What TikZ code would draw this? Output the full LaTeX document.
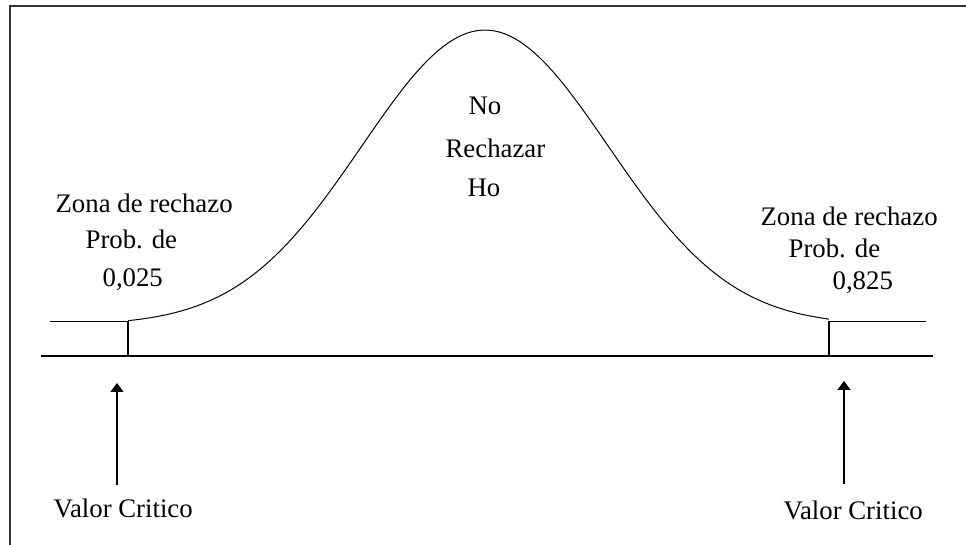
\documentclass[tikz,border=0pt]{standalone}
\usepackage{fontspec}
\setmainfont{Liberation Serif}
\usetikzlibrary{arrows.meta}

\tikzset{
  etiqueta/.style={anchor=base west,inner sep=0pt,font=\fontsize{13.4}{16}\selectfont},
  flecha/.style={-{Triangle[width=6.5pt,length=4.5pt]},line width=0.6pt},
}

\begin{document}
\begin{tikzpicture}[x=0.5pt,y=-0.5pt,line width=0.6pt]
	\useasboundingbox (0,0) rectangle (966,545);
	% marco
	\draw[line width=1pt,black!80] (10,545) -- (10,6) -- (966,6);
	% eje
	\draw (41,356) -- (933,356);
	% curva normal
	\draw[line width=0.5pt] (50,322) -- (128,322);
	\draw[line width=0.5pt,domain=128:829,samples=120,smooth]
		plot (\x,{321-295*(exp(-((\x-485)/100)^2/3.04)-0.014)});
	\draw[line width=0.5pt] (829,322) -- (926,322);
	% valores criticos
	\coordinate (c1) at (128,321);
	\coordinate (c1b) at (128,356);
	\coordinate (c2) at (829,321);
	\coordinate (c2b) at (829,356);
	\draw (c1) -- (c1b);
	\draw (c2) -- (c2b);
	% textos
	\node[etiqueta] (z1) at (55,213) {Zona de rechazo};
	\node[etiqueta] (p1) at (85,249) {Prob. de};
	\node[etiqueta] (v1) at (102,287) {0,025};
	\node[etiqueta] (z2) at (760,226) {Zona de rechazo};
	\node[etiqueta] (p2) at (788,258) {Prob. de};
	\node[etiqueta] (v2) at (832,290) {0,825};
	\node[etiqueta] (no) at (468,115) {No};
	\node[etiqueta] (re) at (445,158) {Rechazar};
	\node[etiqueta] (ho) at (467,197) {Ho};
	\node[etiqueta] (vc1) at (53,518) {Valor Critico};
	\node[etiqueta] (vc2) at (783,520) {Valor Critico};
	% flechas
	\coordinate (f1a) at (117,485);
	\coordinate (f1b) at (117,383);
	\coordinate (f2a) at (844,484);
	\coordinate (f2b) at (844,381);
	\draw[flecha] (f1a) -- (f1b);
	\draw[flecha] (f2a) -- (f2b);
\end{tikzpicture}
\end{document}
